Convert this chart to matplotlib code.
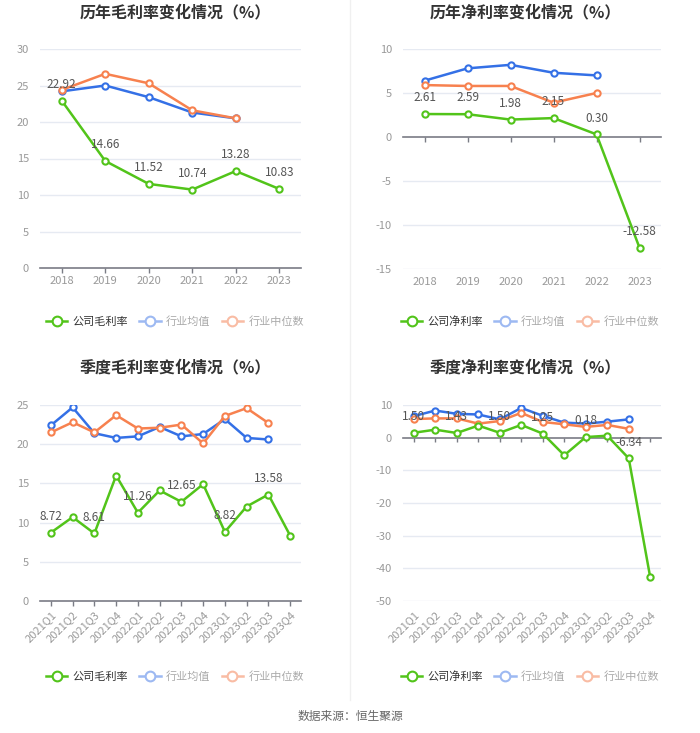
import matplotlib
matplotlib.use("Agg")
import matplotlib.pyplot as plt
from matplotlib.lines import Line2D

plt.rcParams['font.family'] = ['Noto Sans CJK SC', 'DejaVu Sans']

# ---- data ----
years = ['2018', '2019', '2020', '2021', '2022', '2023']
quarters = ['2021Q1', '2021Q2', '2021Q3', '2021Q4', '2022Q1', '2022Q2',
            '2022Q3', '2022Q4', '2023Q1', '2023Q2', '2023Q3', '2023Q4']

gross_year = [22.92, 14.66, 11.52, 10.74, 13.28, 10.83]
gross_year_avg = [24.2, 25.0, 23.4, 21.3, 20.5]
gross_year_med = [24.4, 26.6, 25.3, 21.6, 20.5]

net_year = [2.61, 2.59, 1.98, 2.15, 0.30, -12.58]
net_year_avg = [6.4, 7.8, 8.2, 7.3, 7.0]
net_year_med = [5.9, 5.8, 5.8, 3.9, 5.0]

gross_q = [8.72, 10.7, 8.61, 16.0, 11.26, 14.1, 12.65, 14.9, 8.82, 12.05, 13.58, 8.35]
gross_q_avg = [22.4, 24.7, 21.4, 20.8, 21.0, 22.2, 21.0, 21.3, 23.2, 20.8, 20.6]
gross_q_med = [21.5, 22.8, 21.5, 23.7, 22.0, 22.1, 22.5, 20.1, 23.6, 24.6, 22.7]

net_q = [1.50, 2.45, 1.43, 3.7, 1.50, 3.9, 1.25, -5.4, 0.18, 0.6, -6.34, -42.8]
net_q_avg = [6.6, 8.3, 7.3, 7.1, 5.6, 9.1, 6.7, 4.6, 4.3, 4.9, 5.6]
net_q_med = [5.7, 5.9, 5.9, 4.3, 5.1, 7.6, 4.8, 4.1, 3.3, 3.9, 2.7]

GREEN = '#52c41a'
BLUE = '#3470e6'
ORANGE = '#f7814f'
GRID = '#e6eaf2'
TICK = '#999999'
AXIS = '#7a7c85'

W, H = 700, 733
fig = plt.figure(figsize=(W / 100, H / 100), dpi=100)


def make_ax(l, t, r, b):
    ax = fig.add_axes([l / W, 1 - b / H, (r - l) / W, (b - t) / H])
    return ax, b - t


def draw(ax, px_h, cats, comp, avg, med, ylim, step, label_idx, rotate=False):
    n = len(cats)
    x = list(range(n))
    ax.set_xlim(-0.5, n - 0.5)
    ax.set_ylim(*ylim)
    yt = list(range(ylim[0], ylim[1] + 1, step))
    ax.set_yticks(yt)
    ax.set_yticklabels([str(v) for v in yt])
    for v in yt:
        if v != 0:
            ax.axhline(v, color=GRID, lw=1, zorder=0)
    for s in ax.spines.values():
        s.set_visible(False)
    ax.tick_params(axis='y', length=0, colors=TICK, labelsize=8, pad=8)
    ax.set_xticks(x)
    if rotate:
        ax.set_xticklabels(cats, rotation=45, ha='right', rotation_mode='anchor')
    else:
        ax.set_xticklabels(cats)
    ax.tick_params(axis='x', length=0, colors=TICK, labelsize=8, pad=6)

    # zero axis line with small ticks under it
    ax.axhline(0, color=AXIS, lw=1.2, zorder=2, clip_on=False)
    tick_len = 4.5 * (ylim[1] - ylim[0]) / px_h
    ax.vlines(x, -tick_len, 0, color=AXIS, lw=1, zorder=2, clip_on=False)

    mk = dict(marker='o', ms=4.5, mfc='white', mew=1.5, lw=1.8)
    ax.plot(x[:len(avg)], avg, color=BLUE, zorder=3, **mk)
    ax.plot(x[:len(med)], med, color=ORANGE, zorder=3, **mk)
    ax.plot(x, comp, color=GREEN, zorder=4, **mk)
    for i in label_idx:
        ax.annotate(f'{comp[i]:.2f}', (x[i], comp[i]), xytext=(0, 7),
                    textcoords='offset points', ha='center', va='bottom',
                    fontsize=8.5, color='#555555', zorder=5)
    ax.set_xlim(-0.5, n - 0.5)
    ax.set_ylim(*ylim)

    handles = [
        Line2D([], [], color=GREEN, marker='o', ms=7, mfc='white', mew=1.5, lw=1.8),
        Line2D([], [], color='#9db9f2', marker='o', ms=7, mfc='white', mew=1.5, lw=1.8),
        Line2D([], [], color='#f9bca4', marker='o', ms=7, mfc='white', mew=1.5, lw=1.8),
    ]
    return handles


def legend(handles, comp_name, cx, y):
    leg = fig.legend(handles, [comp_name, '行业均值', '行业中位数'],
                     loc='center', bbox_to_anchor=(cx / W, 1 - y / H),
                     ncol=3, frameon=False, fontsize=8, handlelength=1.9,
                     columnspacing=1.0, handletextpad=0.5)
    texts = leg.get_texts()
    texts[0].set_color('#333333')
    texts[1].set_color('#aaaaaa')
    texts[2].set_color('#aaaaaa')


ax1, ph = make_ax(40, 49, 301, 268)
h = draw(ax1, ph, years, gross_year, gross_year_avg, gross_year_med, (0, 30), 5,
         range(6))
legend(h, '公司毛利率', 175, 322)

ax2, ph = make_ax(403, 49, 661, 269)
h = draw(ax2, ph, years, net_year, net_year_avg, net_year_med, (-15, 10), 5,
         range(6))
legend(h, '公司净利率', 530, 322)

ax3, ph = make_ax(40, 405, 301, 601)
h = draw(ax3, ph, quarters, gross_q, gross_q_avg, gross_q_med, (0, 25), 5,
         range(0, 12, 2), rotate=True)
legend(h, '公司毛利率', 175, 677)

ax4, ph = make_ax(403, 405, 661, 601)
h = draw(ax4, ph, quarters, net_q, net_q_avg, net_q_med, (-50, 10), 10,
         range(0, 12, 2), rotate=True)
legend(h, '公司净利率', 530, 677)

title_kw = dict(ha='center', va='center', fontsize=11.5, fontweight='bold',
                color='#333333')
fig.text(175 / W, 1 - 12 / H, '历年毛利率变化情况（%）', **title_kw)
fig.text(525 / W, 1 - 12 / H, '历年净利率变化情况（%）', **title_kw)
fig.text(175 / W, 1 - 367 / H, '季度毛利率变化情况（%）', **title_kw)
fig.text(525 / W, 1 - 367 / H, '季度净利率变化情况（%）', **title_kw)

fig.text(350 / W, 1 - 716 / H, '数据来源：恒生聚源', ha='center', va='center',
         fontsize=8.5, color='#666666')

fig.add_artist(Line2D([350 / W, 350 / W], [1 - 0 / H, 1 - 700 / H],
                      color='#f0f0f0', lw=1))

fig.savefig('out.png', dpi=100)
